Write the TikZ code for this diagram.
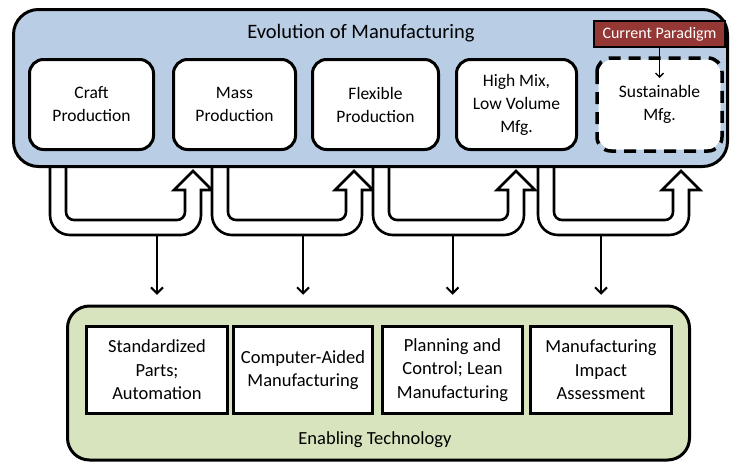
\documentclass[tikz,border=0pt]{standalone}
\usepackage{fontspec}
\setmainfont{Carlito}
\usetikzlibrary{arrows.meta}
\definecolor{topfill}{HTML}{B9CDE5}
\definecolor{botfill}{HTML}{D7E4BD}
\definecolor{paradigm}{HTML}{953735}
\tikzset{
  evobox/.style={draw, line width=3pt, fill=white, rounded corners=14pt, align=center,
    minimum height=90pt, font=\fontsize{17.5}{23}\selectfont},
  techbox/.style={draw, line width=3.5pt, fill=white, align=center,
    minimum height=87pt, font=\fontsize{18.5}{23.5}\selectfont},
  blockarrow/.style={draw, line width=2.6pt, fill=white, line join=miter},
  downarr/.style={line width=2pt, -{Straight Barb[length=6pt,width=12pt,line width=2pt]}},
  lbl/.style={font=\fontsize{20.5}{23}\selectfont}
}
\newcommand{\uarrow}[2]{% left shaft outer x, right shaft center x
  \draw[blockarrow] (#1,160) -- (#1,215) arc[start angle=180,end angle=90,radius=20]
    -- ({#2+8-20},235) arc[start angle=90,end angle=0,radius=20]
    -- ({#2+8},190) -- ({#2+19},190) -- ({#2},171) -- ({#2-19},190) -- ({#2-8},190)
    -- ({#2-8},212) arc[start angle=0,end angle=90,radius=8]
    -- ({#1+16+8},220) arc[start angle=90,end angle=180,radius=8] -- ({#1+16},160);
}
\begin{document}
\begin{tikzpicture}[x=1pt,y=-1pt]
\useasboundingbox (0,0) rectangle (733,463);
% U arrows (behind the top box)
\uarrow{50}{193}
\uarrow{212}{354}
\uarrow{373}{516}
\uarrow{538}{681}
% top box
\node[draw, line width=3pt, fill=topfill, rounded corners=25pt, minimum width=714pt,
  minimum height=157pt] (top) at (370.5,88) {};
\node[lbl] (title) at (361,33) {Evolution of Manufacturing};
\node[evobox, minimum width=124pt] (craft) at (91.5,104.5) {Craft\\Production};
\node[evobox, minimum width=122pt] (mass) at (234.5,104.5) {Mass\\Production};
\node[evobox, minimum width=126pt] (flex) at (375.5,104.5) {Flexible\\Production};
\node[evobox, minimum width=120pt] (hmlv) at (516.5,104.5) {High Mix,\\Low Volume\\Mfg.};
\node[evobox, minimum width=122pt, draw=none] (sust) at (659.5,104.5) {Sustainable\\Mfg.};
\draw[line width=3.5pt, dash pattern=on 12pt off 8pt, rounded corners=14pt]
  (sust.north west) rectangle (sust.south east);
\node[draw=black, line width=1.5pt, fill=paradigm, text=white, minimum width=131pt,
  minimum height=26pt, inner sep=0pt, font=\fontsize{16}{18}\selectfont] (cur) at (659.5,34) {Current Paradigm};
\coordinate (curend) at (659.5,78);
\draw[line width=1.3pt, -{Straight Barb[length=4pt,width=8pt,line width=1.3pt]}] (cur.south) -- (curend);
% bottom box
\node[draw, line width=3pt, fill=botfill, rounded corners=22pt, minimum width=622pt,
  minimum height=154pt] (bot) at (378.5,383) {};
\node[techbox, minimum width=141pt] (b1) at (157,370) {Standardized\\Parts;\\Automation};
\node[techbox, minimum width=139pt] (b2) at (303,370) {Computer-Aided\\Manufacturing};
\node[techbox, minimum width=140pt] (b3) at (452.5,370) {Planning and\\Control; Lean\\Manufacturing};
\node[techbox, minimum width=141pt] (b4) at (601,370) {Manufacturing\\Impact\\Assessment};
\node[font=\fontsize{18.5}{22}\selectfont] (enab) at (375,440) {Enabling Technology};
% down arrows
\foreach \b in {b1,b2,b3,b4}{
  \coordinate (s\b) at (\b.north |- 0,235);
  \draw[downarr, shorten >=30pt] (s\b) -- (\b.north);
}
\end{tikzpicture}
\end{document}
